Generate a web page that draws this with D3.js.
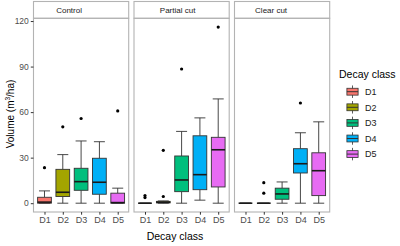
<!DOCTYPE html>
<html>
<head>
<meta charset="utf-8">
<script src="https://cdn.jsdelivr.net/npm/d3@7/dist/d3.min.js"></script>
<style>
html,body{margin:0;padding:0;background:#fff;}
svg{display:block;font-family:"Liberation Sans",Arial,sans-serif;}
</style>
</head>
<body>
<svg id="chart" width="400" height="246"></svg>
<script>
// ---- data ----
const categories = ["D1", "D2", "D3", "D4", "D5"];
const facets = ["Control", "Partial cut", "Clear cut"];
const colors = ["#F8766D", "#A3A500", "#00BF7D", "#00B0F6", "#E76BF3"];
const yTicks = [0, 30, 60, 90, 120];
// per facet, per decay class
const whiskerLow = [
  [0, 0, 0, 0, 0],
  [0, 0, 0, 2.0, 0],
  [0, 0, 0, 0, 0]
];
const q1 = [
  [0, 4.4, 8.5, 5.9, 0],
  [0, 0.2, 7.6, 8.9, 10.7],
  [0, 0, 2.6, 19.9, 5.0]
];
const median = [
  [0.7, 7.2, 14.2, 13.8, 0.4],
  [0, 0.6, 15.3, 18.8, 35.2],
  [0, 0, 6.1, 26.0, 21.4]
];
const q3 = [
  [3.9, 22.3, 23.0, 29.6, 6.6],
  [0, 1.2, 31.1, 44.4, 43.4],
  [0, 0, 9.9, 35.9, 33.2]
];
const whiskerHigh = [
  [8.1, 32.0, 41.0, 40.5, 9.9],
  [0, 1.5, 47.3, 56.2, 68.7],
  [0, 0, 14.0, 46.4, 53.6]
];
const outliers = [
  [[23.4], [50.3], [55.8], [], [60.8]],
  [[3.7, 5.0], [4.4, 34.8], [88.4], [], [116.0]],
  [[], [6.6, 13.5], [], [66.0], []]
];

// ---- layout ----
const svg = d3.select("#chart");
const panelLeft0 = 33.5, panelW = 95.2, panelGap = 5.3;
const stripTop = 1.5, panelTop = 18.3, panelBottom = 212;
const stripDx = [-12, -4, -11];
const borderCol = "#b3b3b3";
const lineCol = "#333333";
const font = "'Liberation Sans', Arial, sans-serif";

const y = d3.scaleLinear().domain([-5.8, 121.8]).range([panelBottom, panelTop]);

facets.forEach((f, fi) => {
  const x0 = panelLeft0 + fi * (panelW + panelGap);
  const x1 = x0 + panelW;
  const x = d3.scalePoint().domain(categories).range([x0, x1]).padding(0.6);
  const bw = x.step() * 0.75;
  const g = svg.append("g");

  // strip
  g.append("rect").attr("x", x0).attr("y", stripTop).attr("width", panelW)
    .attr("height", panelTop - stripTop).attr("fill", "#fff")
    .attr("stroke", borderCol).attr("stroke-width", 1.1);
  g.append("text").attr("x", (x0 + x1) / 2 + stripDx[fi]).attr("y", (stripTop + panelTop) / 2 + 3)
    .attr("text-anchor", "middle").attr("font-size", 8).attr("fill", "#1a1a1a").text(f);

  // boxes
  categories.forEach((c, ci) => {
    const cx = x(c);
    const gb = g.append("g");
    gb.append("line").attr("x1", cx).attr("x2", cx)
      .attr("y1", y(q3[fi][ci])).attr("y2", y(whiskerHigh[fi][ci]))
      .attr("stroke", lineCol).attr("stroke-width", 0.9);
    gb.append("line").attr("x1", cx).attr("x2", cx)
      .attr("y1", y(q1[fi][ci])).attr("y2", y(whiskerLow[fi][ci]))
      .attr("stroke", lineCol).attr("stroke-width", 0.9);
    // whisker caps
    [whiskerHigh[fi][ci], whiskerLow[fi][ci]].forEach(v => {
      gb.append("line").attr("x1", cx - bw * 0.4).attr("x2", cx + bw * 0.4)
        .attr("y1", y(v)).attr("y2", y(v))
        .attr("stroke", lineCol).attr("stroke-width", 0.9);
    });
    gb.append("rect").attr("x", cx - bw / 2).attr("width", bw)
      .attr("y", y(q3[fi][ci])).attr("height", Math.max(0, y(q1[fi][ci]) - y(q3[fi][ci])))
      .attr("fill", colors[ci]).attr("stroke", lineCol).attr("stroke-width", 0.9);
    gb.append("line").attr("x1", cx - bw / 2).attr("x2", cx + bw / 2)
      .attr("y1", y(median[fi][ci])).attr("y2", y(median[fi][ci]))
      .attr("stroke", "#1a1a1a").attr("stroke-width", 1.6);
    outliers[fi][ci].forEach(v => {
      gb.append("circle").attr("cx", cx).attr("cy", y(v)).attr("r", 1.6).attr("fill", "#000");
    });
  });

  // panel border
  g.append("rect").attr("x", x0).attr("y", panelTop).attr("width", panelW)
    .attr("height", panelBottom - panelTop).attr("fill", "none")
    .attr("stroke", borderCol).attr("stroke-width", 1.1);

  // x axis
  const ax = svg.append("g").attr("transform", `translate(0,${panelBottom})`)
    .call(d3.axisBottom(x).tickSize(2.7).tickPadding(2));
  ax.select(".domain").remove();
  ax.selectAll(".tick line").attr("stroke", "#333");
  ax.selectAll(".tick text").attr("font-size", 9).attr("fill", "#4d4d4d").attr("font-family", font);

  if (fi === 0) {
    const ay = svg.append("g").attr("transform", `translate(${x0},0)`)
      .call(d3.axisLeft(y).tickValues(yTicks).tickSize(2.7).tickPadding(2));
    ay.select(".domain").remove();
    ay.selectAll(".tick line").attr("stroke", "#333");
    ay.selectAll(".tick text").attr("font-size", 8.5).attr("fill", "#4d4d4d").attr("font-family", font);
  }
});

// axis titles
svg.append("text").attr("x", 175).attr("y", 240).attr("text-anchor", "middle")
  .attr("font-size", 10.5).attr("fill", "#000").text("Decay class");
const yt = svg.append("text").attr("transform", "translate(13.5,114) rotate(-90)")
  .attr("text-anchor", "middle").attr("font-size", 10).attr("fill", "#000");
yt.append("tspan").text("Volume (m");
yt.append("tspan").attr("font-size", 6.5).attr("dy", -4).text("3");
yt.append("tspan").attr("dy", 4).text("/ha)");

// legend
const lg = svg.append("g");
lg.append("text").attr("x", 339).attr("y", 77.5).attr("font-size", 10.5).attr("fill", "#000").text("Decay class");
const keyH = 15.6, keyW = 14, keyX = 345.5, keyY0 = 91.7;
categories.forEach((c, i) => {
  const cy = keyY0 + i * keyH;
  const kg = lg.append("g");
  kg.append("line").attr("x1", keyX + keyW / 2).attr("x2", keyX + keyW / 2)
    .attr("y1", cy - keyH * 0.4).attr("y2", cy + keyH * 0.4)
    .attr("stroke", lineCol).attr("stroke-width", 0.8);
  kg.append("rect").attr("x", keyX + keyW * 0.1).attr("width", keyW * 0.8)
    .attr("y", cy - keyH * 0.22).attr("height", keyH * 0.44)
    .attr("fill", colors[i]).attr("stroke", lineCol).attr("stroke-width", 0.8);
  kg.append("line").attr("x1", keyX + keyW * 0.1).attr("x2", keyX + keyW * 0.9)
    .attr("y1", cy).attr("y2", cy).attr("stroke", lineCol).attr("stroke-width", 1);
  lg.append("text").attr("x", 365).attr("y", cy + 3.2).attr("font-size", 9).attr("fill", "#1a1a1a").text(c);
});
</script>
</body>
</html>
